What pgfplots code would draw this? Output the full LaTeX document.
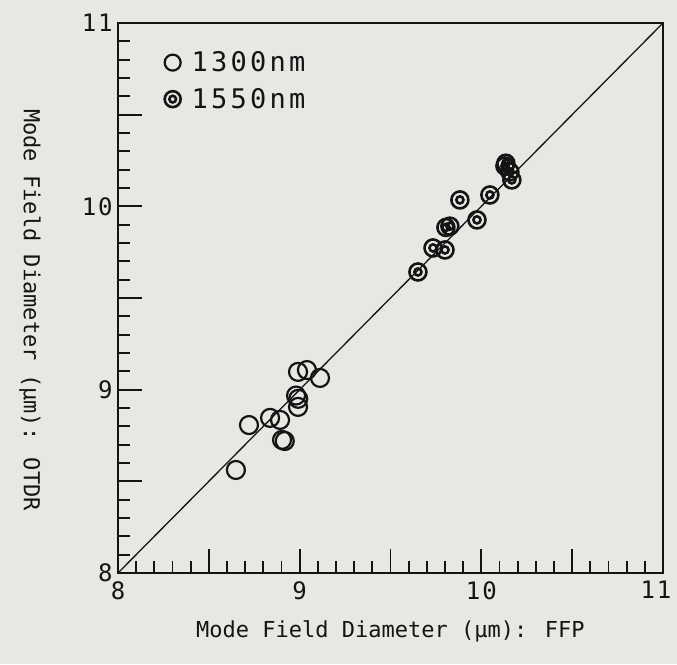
\documentclass[border=0pt]{standalone}
\usepackage{fontspec}
\setmainfont{DejaVu Sans Mono}
\newfontfamily\legfont[LetterSpace=12]{DejaVu Sans Mono}
\newfontfamily\tickfont[LetterSpace=8]{DejaVu Sans Mono}
\usepackage{pgfplots}
\pgfplotsset{compat=1.18}
\definecolor{bg}{RGB}{231,231,228}
\definecolor{ink}{RGB}{20,20,20}
\pgfdeclareplotmark{dcircle}{%
  \pgfpathcircle{\pgfpointorigin}{\pgfplotmarksize}\pgfusepathqstroke
  \pgfpathcircle{\pgfpointorigin}{0.42\pgfplotmarksize}\pgfusepathqstroke}
\begin{document}
\begin{tikzpicture}
\path[use as bounding box, fill=bg] (0,0) rectangle (677pt,664pt);
\begin{axis}[
  at={(118pt,91pt)}, anchor=south west,
  scale only axis, width=545pt, height=550pt,
  xmin=8, xmax=11, ymin=8, ymax=11,
  xtick={8,8.5,9,9.5,10,10.5,11}, xticklabels={8,,9,,10,,{\hspace*{-14pt}11}},
  ytick={8,8.5,9,9.5,10,10.5,11}, yticklabels={8,,9,,10,,11},
  minor tick num=4,
  tick align=inside, xtick pos=bottom, ytick pos=left,
  major tick length=24pt, minor tick length=12pt,
  every tick/.style={line width=1.8pt, ink},
  line width=2pt, draw=ink,
  /pgf/number format/assume math mode=true,
  ticklabel style={font=\tickfont\fontsize{24}{24}\selectfont, text=ink},
  xticklabel style={yshift=-4pt},
  yticklabel style={xshift=-1pt},
  xlabel={Mode Field Diameter (μm): FFP},
  ylabel={Mode Field Diameter (μm): OTDR},
  every axis x label/.style={at={(axis description cs:0.5,-0.107)}, anchor=center,
    font=\fontsize{22}{22}\selectfont, text=ink},
  every axis y label/.style={at={(axis description cs:-0.1615,0.478)}, rotate=-90, anchor=center,
    font=\fontsize{22}{22}\selectfont, text=ink},
  legend style={at={(axis cs:8.235,10.87)}, anchor=north west, draw=none, fill=none,
    font=\legfont\fontsize{27}{27}\selectfont, text=ink, row sep=11pt},
  legend cell align=left,
  legend image code/.code={\draw[#1, mark size=8pt] plot coordinates {(0pt,0pt)};
    \path[draw=none, fill=none] (0pt,0pt) rectangle (17pt,0.1pt);},
]
\addplot[ink, line width=1.3pt, no marks, forget plot] coordinates {(8,8) (11,11)};
\addplot[only marks, mark=o, mark size=9pt, line width=2.2pt, ink] coordinates {
(8.649,8.562) (8.721,8.807) (8.837,8.846) (8.892,8.835)
(8.903,8.726) (8.918,8.720) (8.991,8.906)
(8.980,8.968) (8.992,8.950) (8.991,9.097) (9.040,9.107) (9.112,9.064)
};
\addlegendentry{1300nm}
\addplot[only marks, mark=dcircle, mark size=8.5pt, line width=2.6pt, ink] coordinates {
(9.651,9.642) (9.734,9.773) (9.800,9.762) (9.805,9.885) (9.827,9.892)
(9.882,10.035) (9.976,9.926) (10.047,10.062)
(10.130,10.220) (10.157,10.188) (10.168,10.144) (10.135,10.235)
};
\addlegendentry{1550nm}
\end{axis}
\end{tikzpicture}
\end{document}
